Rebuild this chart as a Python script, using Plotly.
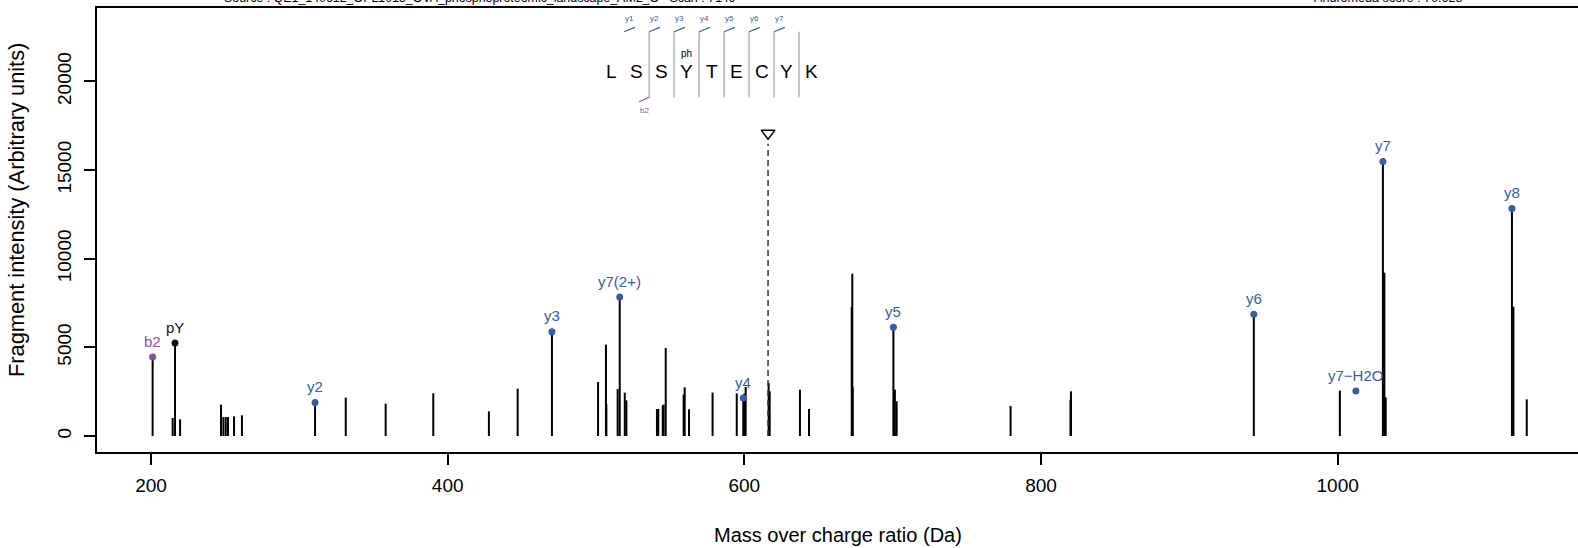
import plotly.graph_objects as go

# ---------------- data ----------------
peak_mz = [201.1, 214.6, 216.2, 219.6, 247.2, 248.8, 250.4, 251.9, 256.0, 261.3,
           310.6, 331.3, 358.2, 390.3, 427.8, 447.2, 470.3, 501.4, 506.7, 507.0,
           514.6, 516.0, 519.4, 520.5, 541.1, 542.0, 545.0, 545.6, 547.0, 559.1,
           559.8, 562.7, 578.6, 594.9, 599.3, 600.0, 600.9, 616.4, 617.1, 637.5,
           643.6, 672.4, 672.8, 673.1, 700.5, 701.5, 702.7, 779.5, 819.9, 820.2,
           943.5, 1001.5, 1030.5, 1031.5, 1032.4, 1117.5, 1118.5, 1127.5]
peak_int = [4453, 1015, 5243, 940, 1770, 1071, 1071, 1071, 1110, 1167,
            1883, 2164, 1826, 2407, 1392, 2672, 5885, 3044, 5152, 1804,
            2650, 7836, 2446, 2012, 1522, 1522, 1731, 1770, 4961, 2334,
            2745, 1505, 2446, 2407, 2142, 2390, 2762, 2988, 2520, 2615,
            1522, 7272, 9153, 2762, 6128, 2615, 1956, 1691, 2052, 2520,
            6860, 2559, 15485, 9210, 2182, 12836, 7293, 2069]

ion_labels = ["b2", "pY", "y2", "y3", "y7(2+)", "y4", "y5", "y6", "y7\u2212H2O", "y7", "y8"]
ion_mz = [201.1, 216.2, 310.6, 470.3, 516.0, 599.3, 700.5, 943.5, 1012.3, 1030.5, 1117.5]
ion_int = [4453, 5243, 1883, 5885, 7836, 2142, 6128, 6860, 2537, 15485, 12836]
ion_type = ["b", "other", "y", "y", "y", "y", "y", "y", "y", "y", "y"]

precursor_mz = 616.0
precursor_mark = 17080

sequence = ["L", "S", "S", "Y", "T", "E", "C", "Y", "K"]
modified_pos = 3          # 0-based index of the phosphorylated residue
y_ion_breaks = [1, 2, 3, 4, 5, 6, 7]
b_ion_breaks = [2]

title_left = "Source : QE1_140612_OPL1013_OVA_phosphoproteomic_landscape_AML_O   Scan : 7149"
title_right = "Andromeda score : 70.628"

x_ticks = [200, 400, 600, 800, 1000]
y_ticks = [0, 5000, 10000, 15000, 20000]

# ---------------- styling ----------------
W, H = 1578, 548
ML, MR, MT, MB = 97, 0, 8, 96
FONT = "Liberation Sans, Arial, sans-serif"
BLUE = "#3C5BA6"
PURPLE = "#8A4FA6"
color_map = {"b": PURPLE, "y": BLUE, "other": "#111111"}

pw = W - ML - MR
ph_ = H - MT - MB


def px_x(px):
    return (px - ML) / pw


def px_y(py):
    return (H - MB - py) / ph_


fig = go.Figure()

# stems
sx, sy = [], []
for m, v in zip(peak_mz, peak_int):
    sx += [m, m, None]
    sy += [0, v, None]
fig.add_trace(go.Scatter(x=sx, y=sy, mode="lines",
                         line=dict(color="black", width=2), hoverinfo="skip",
                         showlegend=False))

# precursor dashed line + triangle
fig.add_shape(type="line", xref="x", yref="y", x0=precursor_mz, x1=precursor_mz,
              y0=0, y1=precursor_mark - 600,
              line=dict(color="#333333", width=1.5, dash="6px,4px"))
fig.add_trace(go.Scatter(x=[precursor_mz], y=[precursor_mark], mode="markers",
                         marker=dict(symbol="triangle-down-open", size=12,
                                     color="black", line=dict(width=1.5, color="black")),
                         showlegend=False, hoverinfo="skip"))

# ion dots
fig.add_trace(go.Scatter(x=ion_mz, y=ion_int, mode="markers",
                         marker=dict(size=7, color=[color_map[t] for t in ion_type]),
                         showlegend=False, hoverinfo="skip"))

annotations = []
for lab, m, v, t in zip(ion_labels, ion_mz, ion_int, ion_type):
    annotations.append(dict(x=m, y=v, xref="x", yref="y", text=lab, showarrow=False,
                            yanchor="middle", xanchor="center", yshift=16,
                            font=dict(family=FONT, size=15, color=color_map[t])))

# sequence drawing (layout in pixels)
seq_x0, seq_step, seq_y = 611.7, 24.98, 71.7
sep_top, sep_bot = 31.7, 97.3
shapes = []
for i, aa in enumerate(sequence):
    cx = seq_x0 + i * seq_step
    annotations.append(dict(x=px_x(cx), y=px_y(seq_y), xref="paper", yref="paper",
                            text=aa, showarrow=False, xanchor="center", yanchor="middle",
                            font=dict(family=FONT, size=19, color="black")))
    if i == modified_pos:
        annotations.append(dict(x=px_x(cx), y=px_y(53.3), xref="paper", yref="paper",
                                text="ph", showarrow=False, xanchor="center", yanchor="middle",
                                font=dict(family=FONT, size=10, color="black")))
for k in range(1, len(sequence)):
    bx = seq_x0 + (k - 0.5) * seq_step
    shapes.append(dict(type="line", xref="paper", yref="paper",
                       x0=px_x(bx), x1=px_x(bx), y0=px_y(sep_top), y1=px_y(sep_bot),
                       line=dict(color="#C4C4C4", width=2)))
for n in y_ion_breaks:
    bx = seq_x0 + (n - 0.5) * seq_step
    shapes.append(dict(type="line", xref="paper", yref="paper",
                       x0=px_x(bx), x1=px_x(bx + 10.7), y0=px_y(sep_top), y1=px_y(sep_top - 4.3),
                       line=dict(color=BLUE, width=1.2)))
    annotations.append(dict(x=px_x(bx + 5), y=px_y(18.3), xref="paper", yref="paper",
                            text="y%d" % n, showarrow=False, xanchor="center", yanchor="middle",
                            font=dict(family=FONT, size=8, color=BLUE)))
for n in b_ion_breaks:
    bx = seq_x0 + (n - 0.5) * seq_step
    shapes.append(dict(type="line", xref="paper", yref="paper",
                       x0=px_x(bx), x1=px_x(bx - 10), y0=px_y(sep_bot), y1=px_y(sep_bot + 4.5),
                       line=dict(color=PURPLE, width=1.2)))
    annotations.append(dict(x=px_x(bx - 5), y=px_y(111), xref="paper", yref="paper",
                            text="b%d" % n, showarrow=False, xanchor="center", yanchor="middle",
                            font=dict(family=FONT, size=8, color=PURPLE)))

# top texts (mostly cut off by the page edge, as in the reference)
annotations.append(dict(x=px_x(480), y=1, xref="paper", yref="paper", text=title_left,
                        showarrow=False, xanchor="center", yanchor="bottom", yshift=1,
                        font=dict(family=FONT, size=12.4, color="black")))
annotations.append(dict(x=px_x(1388), y=1, xref="paper", yref="paper", text=title_right,
                        showarrow=False, xanchor="center", yanchor="bottom", yshift=1,
                        font=dict(family=FONT, size=12.6, color="black")))

# axis titles
annotations.append(dict(x=px_x(838), y=px_y(535), xref="paper", yref="paper",
                        text="Mass over charge ratio (Da)", showarrow=False,
                        xanchor="center", yanchor="middle",
                        font=dict(family=FONT, size=20, color="black")))
annotations.append(dict(x=px_x(16), y=px_y(210), xref="paper", yref="paper",
                        text="Fragment intensity (Arbitrary units)", showarrow=False,
                        xanchor="center", yanchor="middle", textangle=-90,
                        font=dict(family=FONT, size=21.8, color="black")))

x_lo = 200 - (151 - ML) / 1.4833
x_hi = 200 + (W - MR - 151) / 1.4833
y_lo, y_hi = -902, 24138

fig.update_layout(
    width=W, height=H, autosize=False,
    margin=dict(l=ML, r=MR, t=MT, b=MB, pad=0),
    paper_bgcolor="white", plot_bgcolor="white",
    showlegend=False,
    shapes=shapes, annotations=annotations,
    font=dict(family=FONT, color="black"),
    xaxis=dict(range=[x_lo, x_hi], tickvals=x_ticks, ticktext=[str(v) for v in x_ticks],
               showgrid=False, zeroline=False, showline=True, mirror=True,
               linecolor="black", linewidth=2, ticks="outside", ticklen=11,
               tickwidth=1.5, tickcolor="black", tickfont=dict(size=19, family=FONT),
               ticklabelstandoff=4, automargin=False),
    yaxis=dict(range=[y_lo, y_hi], tickvals=y_ticks, ticktext=[str(v) for v in y_ticks],
               showgrid=False, zeroline=False, showline=True, mirror=False,
               linecolor="black", linewidth=2, ticks="outside", ticklen=11,
               tickwidth=1.5, tickcolor="black", tickangle=-90,
               tickfont=dict(size=19, family=FONT), ticklabelstandoff=5,
               automargin=False),
)

fig.write_html("out.html", config={"displayModeBar": False},
               post_script="document.body.style.margin='0';document.body.style.padding='0';")
